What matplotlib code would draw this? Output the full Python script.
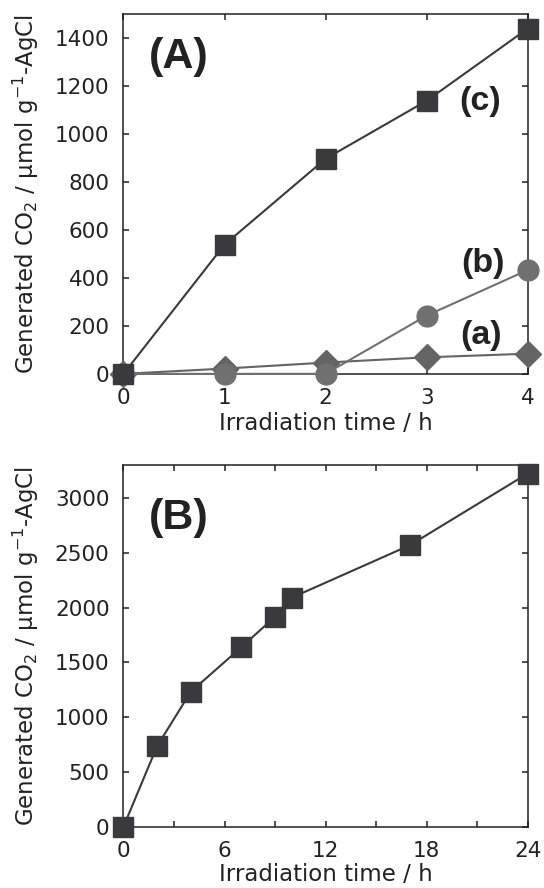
import numpy as np
import matplotlib
matplotlib.use("Agg")
from matplotlib import pyplot as plt

# Panel A: CO2 evolution over the first 4 h for three samples
timeA = [0, 1, 2, 3, 4]
co2_a = [0, 22, 47, 69, 84]
co2_b = [0, 0, 0, 243, 433]
co2_c = [0, 539, 897, 1139, 1440]

# Panel B: long-run CO2 evolution of sample (c)
timeB = [0, 2, 4, 7, 9, 10, 17, 24]
co2_long = [0, 737, 1233, 1639, 1918, 2092, 2570, 3225]

plt.rcParams["font.family"] = ["DejaVu Sans"]
plt.rcParams["mathtext.fontset"] = "dejavusans"

textColor = "#222222"
yLabel = "Generated CO$_2$ / \u03bcmol g$^{-1}$-AgCl"
tagFont = ["Liberation Sans", "DejaVu Sans"]


def styleAxes(ax):
    for side in ax.spines.values():
        side.set_linewidth(1.1)
        side.set_color(textColor)
    ax.tick_params(which="both", direction="in", length=4.5, width=1.1,
                   top=True, right=True, colors=textColor)
    ax.tick_params(axis="both", labelsize=15.5, pad=10)
    ax.set_ylabel(yLabel, fontsize=16.5, color=textColor, labelpad=10)


fig = plt.figure(figsize=(5.44, 8.88), dpi=100)

axA = fig.add_axes([0.227, 0.579, 0.743, 0.405])
axA.plot(timeA, co2_a, color="#646464", lw=1.5, marker="D", ms=13,
         clip_on=False, zorder=3)
axA.plot(timeA, co2_b, color="#707070", lw=1.5, marker="o", ms=15,
         clip_on=False, zorder=4)
axA.plot(timeA, co2_c, color="#3a3a3c", lw=1.5, marker="s", ms=14,
         clip_on=False, zorder=5)
axA.set_xlim(0, 4)
axA.set_ylim(0, 1500)
axA.set_xticks([0, 1, 2, 3, 4])
axA.set_yticks(np.arange(0, 1401, 200))
styleAxes(axA)
axA.set_xlabel("Irradiation time / h", fontsize=16.5, color=textColor, labelpad=3)
axA.text(0.064, 0.881, "(A)", transform=axA.transAxes, fontsize=31,
         family=tagFont, fontweight="bold", ha="left", va="center", color=textColor)
axA.text(0.882, 0.756, "(c)", transform=axA.transAxes, fontsize=24.5,
         family=tagFont, fontweight="bold", ha="center", va="center", color=textColor)
axA.text(0.889, 0.308, "(b)", transform=axA.transAxes, fontsize=24.5,
         family=tagFont, fontweight="bold", ha="center", va="center", color=textColor)
axA.text(0.885, 0.108, "(a)", transform=axA.transAxes, fontsize=24.5,
         family=tagFont, fontweight="bold", ha="center", va="center", color=textColor)

axB = fig.add_axes([0.227, 0.069, 0.743, 0.407])
axB.plot(timeB, co2_long, color="#3a3a3c", lw=1.5, marker="s", ms=14,
         clip_on=False, zorder=5)
axB.set_xlim(0, 24)
axB.set_ylim(0, 3300)
axB.set_xticks(np.arange(0, 25, 6))
axB.set_xticks(np.arange(3, 24, 6), minor=True)
axB.set_yticks(np.arange(0, 3001, 500))
styleAxes(axB)
axB.set_xlabel("Irradiation time / h", fontsize=16.5, color=textColor, labelpad=2)
axB.text(0.064, 0.853, "(B)", transform=axB.transAxes, fontsize=31,
         family=tagFont, fontweight="bold", ha="left", va="center", color=textColor)

fig.savefig("out.png", dpi=100)
